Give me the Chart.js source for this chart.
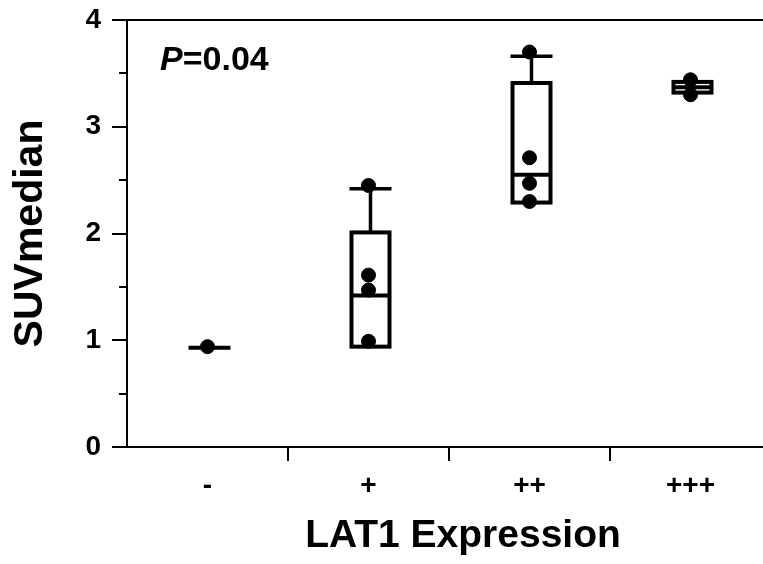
<!DOCTYPE html>
<html>
<head>
<meta charset="utf-8">
<script src="https://cdn.jsdelivr.net/npm/chart.js@4.4.1/dist/chart.umd.min.js"></script>
<style>
  html, body { margin: 0; padding: 0; background: #fff; overflow: hidden; }
  #wrap { width: 780px; height: 564px; }
</style>
</head>
<body>
<div id="wrap"><canvas id="suvChart" width="780" height="564"></canvas></div>
<script>
var categories = ['-', '+', '++', '+++'];

// box summary for each LAT1 group
var boxMin = [0.93, 0.94, 2.29, 3.32];
var boxQ1 = [0.93, 0.94, 2.29, 3.32];
var boxMedian = [0.93, 1.42, 2.55, 3.37];
var boxQ3 = [0.93, 2.01, 3.41, 3.42];
var boxMax = [0.93, 2.42, 3.66, 3.42];

// single patients
var ptsNeg = [0.94];
var ptsPlus = [2.45, 1.61, 1.47, 0.99];
var ptsPlus2 = [3.70, 2.71, 2.47, 2.30];
var ptsPlus3 = [3.44, 3.30];

var pText = '=0.04';
var fontFam = '"Liberation Sans", Arial, Helvetica, sans-serif';

var allPts = [ptsNeg, ptsPlus, ptsPlus2, ptsPlus3];
var scatterData = [];
for (var g = 0; g < allPts.length; g++) {
  for (var k = 0; k < allPts[g].length; k++) {
    scatterData.push({x: categories[g], y: allPts[g][k]});
  }
}

var boxPlugin = {
  id: 'boxPlot',
  beforeDatasetsDraw: function(chart) {
    var ctx = chart.ctx, xs = chart.scales.x, ys = chart.scales.y;
    var area = chart.chartArea;
    ctx.save();
    ctx.strokeStyle = '#000';
    ctx.lineCap = 'butt';

    // axis ticks (major + minor) and top frame line
    ctx.lineWidth = 2;
    for (var v = 0; v <= 4; v += 0.5) {
      var py = Math.round(ys.getPixelForValue(v));
      var len = (v % 1 === 0) ? 15 : 8;
      ctx.beginPath();
      ctx.moveTo(area.left - len, py);
      ctx.lineTo(area.left, py);
      ctx.stroke();
    }
    ctx.beginPath();
    ctx.moveTo(area.left, Math.round(ys.getPixelForValue(4)));
    ctx.lineTo(area.right, Math.round(ys.getPixelForValue(4)));
    ctx.stroke();
    for (var i = 0; i < categories.length - 1; i++) {
      var bx = Math.round((xs.getPixelForValue(i) + xs.getPixelForValue(i + 1)) / 2);
      ctx.beginPath();
      ctx.moveTo(bx, area.bottom);
      ctx.lineTo(bx, area.bottom + 14);
      ctx.stroke();
    }

    // boxes and whiskers
    for (var j = 0; j < categories.length; j++) {
      var cx = xs.getPixelForValue(j) + 2;
      var half = 19;
      var yTop = ys.getPixelForValue(boxQ3[j]);
      var yBot = ys.getPixelForValue(boxQ1[j]);
      var yMed = ys.getPixelForValue(boxMedian[j]);
      ctx.lineWidth = 3.5;
      if (boxMax[j] > boxQ3[j]) {
        var yMax = ys.getPixelForValue(boxMax[j]);
        ctx.beginPath();
        ctx.moveTo(cx, yTop);
        ctx.lineTo(cx, yMax);
        ctx.moveTo(cx - 21, yMax);
        ctx.lineTo(cx + 21, yMax);
        ctx.stroke();
      }
      if (boxMin[j] < boxQ1[j]) {
        var yMin = ys.getPixelForValue(boxMin[j]);
        ctx.beginPath();
        ctx.moveTo(cx, yBot);
        ctx.lineTo(cx, yMin);
        ctx.moveTo(cx - 21, yMin);
        ctx.lineTo(cx + 21, yMin);
        ctx.stroke();
      }
      ctx.lineWidth = 4;
      if (boxQ3[j] > boxQ1[j]) {
        ctx.fillStyle = '#fff';
        ctx.fillRect(cx - half, yTop, half * 2, yBot - yTop);
        ctx.strokeRect(cx - half, yTop, half * 2, yBot - yTop);
        ctx.beginPath();
        ctx.moveTo(cx - half, yMed);
        ctx.lineTo(cx + half, yMed);
        ctx.stroke();
      } else {
        ctx.beginPath();
        ctx.moveTo(cx - 21, yMed);
        ctx.lineTo(cx + 21, yMed);
        ctx.stroke();
      }
    }
    ctx.restore();
  },
  afterDraw: function(chart) {
    var ctx = chart.ctx, area = chart.chartArea, ys = chart.scales.y;
    ctx.save();
    ctx.fillStyle = '#000';
    ctx.textBaseline = 'alphabetic';
    // P value
    var px = area.left + 33, py = ys.getPixelForValue(4) + 50;
    ctx.font = 'italic bold 34px ' + fontFam;
    ctx.textAlign = 'left';
    ctx.fillText('P', px, py);
    var w = ctx.measureText('P').width;
    ctx.font = 'bold 34px ' + fontFam;
    ctx.fillText(pText, px + w, py);
    // x axis title
    ctx.font = 'bold 39px ' + fontFam;
    ctx.textAlign = 'center';
    ctx.fillText('LAT1 Expression', 463, 547);
    ctx.restore();
  }
};

const suvCanvas = document.getElementById('suvChart');

let suvChart = new Chart(suvCanvas, {
  type: 'scatter',
  data: {
    labels: categories,
    datasets: [{
      label: 'SUVmedian',
      data: scatterData,
      backgroundColor: '#000',
      borderColor: '#000',
      pointRadius: 7,
      pointHoverRadius: 7
    }]
  },
  plugins: [boxPlugin],
  options: {
    responsive: false,
    animation: false,
    layout: { padding: { top: 20, right: 9, left: 0, bottom: 0 } },
    plugins: {
      legend: { display: false },
      tooltip: { enabled: false }
    },
    scales: {
      x: {
        type: 'category',
        labels: categories,
        offset: true,
        grid: { display: false, drawTicks: false },
        border: { display: true, color: '#000', width: 2 },
        ticks: {
          color: '#000',
          padding: 22,
          font: { family: fontFam, size: 28, weight: 'bold' }
        },
        afterFit: function(scale) {
          scale.height = 117;
          scale.paddingLeft = 0;
          scale.paddingRight = 0;
        }
      },
      y: {
        min: 0,
        max: 4,
        grid: { display: false, drawTicks: false },
        border: { display: true, color: '#000', width: 2 },
        ticks: {
          stepSize: 1,
          color: '#000',
          padding: 26,
          font: { family: fontFam, size: 28, weight: 'bold' }
        },
        title: {
          display: true,
          text: 'SUVmedian',
          color: '#000',
          padding: { top: 6, bottom: 0 },
          font: { family: fontFam, size: 41, weight: 'bold' }
        },
        afterFit: function(scale) {
          scale.width = 127;
          scale.paddingTop = 0;
          scale.paddingBottom = 0;
        }
      }
    }
  }
});
</script>
</body>
</html>
